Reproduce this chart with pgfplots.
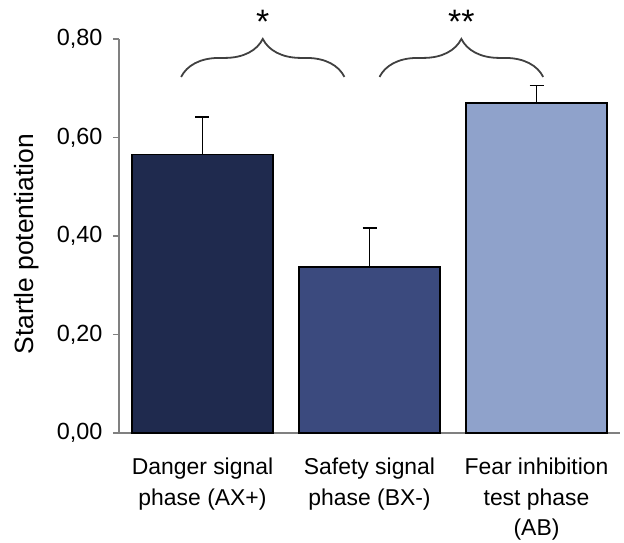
\documentclass[border=0pt]{standalone}
\usepackage{pgfplots}
\pgfplotsset{compat=1.18}
\usepackage{fontspec}
\setmainfont{Liberation Sans}
\usetikzlibrary{decorations.pathreplacing}
\definecolor{barA}{RGB}{31,42,78}
\definecolor{barB}{RGB}{59,74,126}
\definecolor{barC}{RGB}{143,162,203}
\definecolor{axgray}{RGB}{128,128,128}
\definecolor{bracegray}{RGB}{64,64,64}
\begin{document}
\begin{tikzpicture}
\begin{axis}[
  at={(0,0)}, anchor=south west,
  scale only axis,
  width=501bp, height=394bp,
  xmin=-0.5, xmax=2.5, ymin=0, ymax=0.8,
  axis x line*=bottom, axis y line*=left,
  axis line style={draw=axgray, line width=1.3pt},
  every tick/.style={draw=axgray, line width=1.3pt},
  tick align=outside,
  ytick={0,0.2,0.4,0.6,0.8},
  major tick length=6bp,
  xtick={0,1,2},
  xtick style={draw=none},
  minor xtick={-0.5,0.5,1.5,2.5},
  minor tick length=10bp,
  xticklabels={{Danger signal\\phase (AX+)},{Safety signal\\phase (BX-)},{Fear inhibition\\test phase\\(AB)}},
  xticklabel style={align=center, font=\fontsize{23}{31}\selectfont, yshift=-15bp},
  yticklabel style={font=\fontsize{23.5}{26}\selectfont, xshift=-7bp},
  /pgf/number format/assume math mode=true,
  yticklabel={\pgfmathprintnumber[fixed,fixed zerofill,precision=2,use comma]{\tick}},
  ylabel={Startle potentiation},
  ylabel style={font=\fontsize{26.5}{30}\selectfont, yshift=11bp, xshift=-8bp},
  ybar, bar width=141bp, bar shift=0pt,
  clip=false,
  error bars/y dir=plus, error bars/y explicit,
  error bars/error bar style={black, line width=1.4pt},
  error bars/error mark options={rotate=90, mark size=7bp, black, line width=1.4pt},
]
\addplot[fill=barA, draw=black, line width=1.2pt] coordinates {(0,0.566) +- (0,0.076)};
\addplot[fill=barB, draw=black, line width=1.2pt] coordinates {(1,0.337) +- (0,0.079)};
\addplot[fill=barC, draw=black, line width=1.2pt] coordinates {(2,0.670) +- (0,0.035)};
\draw[bracegray, line width=1.8pt, decorate, decoration={brace, amplitude=38bp}]
  (axis cs:-0.128,0.723) -- (axis cs:0.85,0.723);
\draw[bracegray, line width=1.8pt, decorate, decoration={brace, amplitude=38bp}]
  (axis cs:1.06,0.723) -- (axis cs:2.04,0.723);
\node[font=\fontsize{34}{34}\selectfont] at (axis cs:0.36,0.835) {*};
\node[font=\fontsize{34}{34}\selectfont] at (axis cs:1.55,0.835) {**};
\end{axis}
\pgfresetboundingbox
\path[use as bounding box] (-119bp,-110bp) rectangle (505bp,433bp);
\end{tikzpicture}
\end{document}
